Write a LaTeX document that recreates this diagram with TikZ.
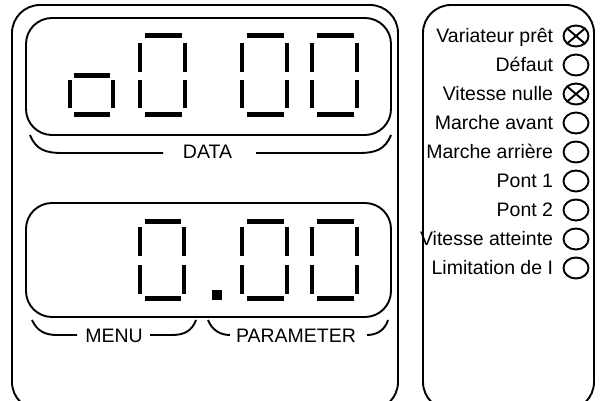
\documentclass[tikz,border=0pt]{standalone}
\usepackage{fontspec}
\setmainfont{Liberation Sans}
\usetikzlibrary{shapes.geometric}
\newcommand\myzero[8]{%
  \draw[hseg] (#1+4.5,#3) -- (#2-3.5,#3);
  \draw[vseg] (#1,#4) -- (#1,#5);
  \draw[vseg] (#2,#4) -- (#2,#5);
  \draw[vseg] (#1,#6) -- (#1,#7);
  \draw[vseg] (#2,#6) -- (#2,#7);
  \draw[hseg] (#1+4.5,#8) -- (#2-3.5,#8);
}
\begin{document}
\begin{tikzpicture}[x=1pt,y=-1pt,line width=1.9pt,
  hseg/.style={line width=5pt},
  vseg/.style={line width=4.5pt},
  lbl/.style={font=\fontsize{19.5}{23}\selectfont, inner sep=0pt},
  lamp/.style={ellipse, draw, minimum width=25pt, minimum height=21pt, inner sep=0pt, line width=1.9pt}]
\useasboundingbox (0,0) rectangle (606,401);
\clip (0,0) rectangle (606,401);
% frames
\draw[rounded corners=28pt] (12,5) rectangle (398,410);
\draw[rounded corners=28pt] (423,5) rectangle (594,410);
\draw[rounded corners=26pt] (26,18) rectangle (391,135);
\draw[rounded corners=26pt] (26,203) rectangle (391,317);
% upper display: o0 00
\draw[hseg] (74,76) -- (110,76);
\draw[vseg] (70,80) -- (70,108);
\draw[vseg] (113,80) -- (113,108);
\draw[hseg] (74,115) -- (110,115);
\myzero{140}{185}{36}{43}{72}{80}{108}{115}
\myzero{242}{287}{36}{43}{72}{80}{108}{115}
\myzero{312}{357}{36}{43}{72}{80}{108}{115}
% lower display: 0.00
\myzero{140}{184}{222}{227}{256}{265}{294}{299}
\myzero{242}{287}{222}{227}{256}{265}{294}{299}
\myzero{312}{357}{222}{227}{256}{265}{294}{299}
\fill (212,290) rectangle (222,300);
% DATA bracket
\node[lbl, anchor=base] (data) at (207.5,159) {DATA};
\coordinate (d1) at (30,135);
\coordinate (d2) at (163,153);
\coordinate (d3) at (256,153);
\coordinate (d4) at (391,135);
\draw (d1) .. controls (36,150) and (46,153) .. (62,153) -- (d2);
\draw (d3) -- (359,153) .. controls (375,153) and (385,150) .. (d4);
% MENU bracket
\node[lbl, anchor=base] (menu) at (114,342) {MENU};
\coordinate (m1) at (32,320);
\coordinate (m2) at (77,335);
\coordinate (m3) at (150,335);
\coordinate (m4) at (196,320);
\draw (m1) .. controls (37,331) and (45,335) .. (57,335) -- (m2);
\draw (m3) -- (172,335) .. controls (184,335) and (192,331) .. (m4);
% PARAMETER bracket
\node[lbl, anchor=base] (param) at (296,342) {PARAMETER};
\coordinate (p1) at (208,320);
\coordinate (p2) at (230,335);
\coordinate (p3) at (367,335);
\coordinate (p4) at (388,320);
\draw (p1) .. controls (212,330) and (220,335) .. (p2);
\draw (p3) .. controls (377,335) and (385,330) .. (p4);
% indicators
\foreach \i/\t in {0/Variateur prêt,1/Défaut,2/Vitesse nulle,3/Marche avant,4/Marche arrière,5/Pont 1,6/Pont 2,7/Vitesse atteinte,8/Limitation de I}{
  \node[lamp] (c\i) at (576,36+29*\i) {};
  \node[lbl, anchor=base east] (t\i) at (554,42.5+29*\i) {\t};
}
\draw (c0.north west) -- (c0.south east);
\draw (c0.north east) -- (c0.south west);
\draw (c2.north west) -- (c2.south east);
\draw (c2.north east) -- (c2.south west);
\end{tikzpicture}
\end{document}
